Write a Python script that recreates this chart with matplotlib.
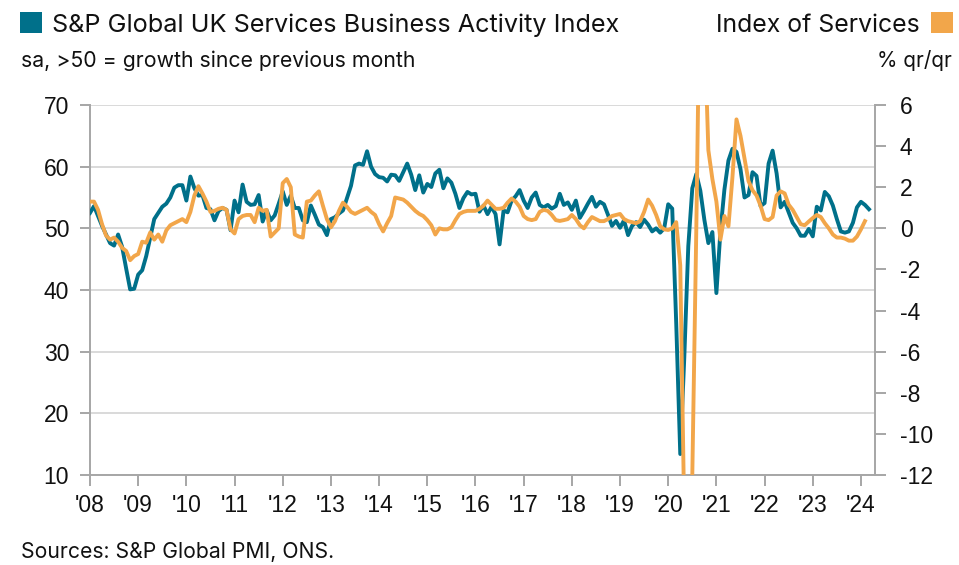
import matplotlib
matplotlib.use("Agg")
import matplotlib.pyplot as plt
import numpy as np
from matplotlib.patches import Rectangle

plt.rcParams['font.family'] = ['Liberation Sans', 'DejaVu Sans']

# S&P Global UK Services Business Activity Index, monthly Jan 2008 - Mar 2024
pmi = [
    52.5, 53.6, 52.0, 50.4, 49.0, 47.6, 47.2, 49.0, 47.0, 43.5, 40.1, 40.2,   # 2008
    42.5, 43.2, 45.5, 48.5, 51.5, 52.5, 53.5, 54.0, 55.0, 56.6, 57.0, 57.0,   # 2009
    54.5, 58.4, 56.5, 55.3, 55.4, 53.3, 53.1, 51.3, 52.8, 53.3, 53.0, 49.7,   # 2010
    54.5, 52.6, 57.1, 54.3, 53.8, 53.9, 55.4, 51.1, 52.9, 51.3, 52.1, 54.0,   # 2011
    56.0, 53.8, 55.3, 53.3, 53.3, 51.3, 51.0, 53.7, 52.2, 50.6, 50.2, 48.9,   # 2012
    51.5, 51.8, 52.4, 52.9, 54.9, 56.9, 60.2, 60.5, 60.3, 62.5, 60.0, 58.8,   # 2013
    58.3, 58.2, 57.6, 58.7, 58.6, 57.7, 59.1, 60.5, 58.7, 56.2, 58.6, 55.8,   # 2014
    57.2, 56.7, 58.9, 59.5, 56.5, 58.1, 57.4, 55.6, 53.3, 54.9, 55.9, 55.5,   # 2015
    55.6, 52.7, 53.7, 52.3, 53.5, 52.3, 47.4, 52.9, 52.6, 54.5, 55.2, 56.2,   # 2016
    54.5, 53.3, 55.0, 55.8, 53.8, 53.4, 53.8, 53.2, 53.6, 55.6, 53.8, 54.2,   # 2017
    53.0, 54.5, 51.7, 52.8, 54.0, 55.1, 53.5, 54.3, 53.9, 52.2, 50.4, 51.2,   # 2018
    50.1, 51.3, 48.9, 50.4, 51.0, 50.2, 51.4, 50.6, 49.5, 50.0, 49.3, 50.0,   # 2019
    53.9, 53.2, 34.5, 13.4, 29.0, 47.1, 56.5, 58.8, 56.1, 51.4, 47.6, 49.4,   # 2020
    39.5, 49.5, 56.3, 61.0, 62.9, 62.4, 59.6, 55.0, 55.4, 59.1, 58.5, 53.6,   # 2021
    54.1, 60.5, 62.6, 58.9, 53.4, 54.3, 52.6, 50.9, 50.0, 48.8, 48.8, 49.9,   # 2022
    48.7, 53.5, 52.9, 55.9, 55.2, 53.7, 51.5, 49.5, 49.3, 49.5, 50.9, 53.4,   # 2023
    54.3, 53.8, 53.1,                                                         # 2024
]

# Index of Services, % 3m/3m, monthly Jan 2008 - Feb 2024
ios = [
    1.3, 1.3, 0.9, 0.2, -0.35, -0.55, -0.45, -0.65, -0.95, -1.1, -1.55, -1.35,   # 2008
    -1.25, -0.65, -0.7, -0.2, -0.55, -0.3, -0.65, -0.1, 0.15, 0.25, 0.35, 0.45,  # 2009
    0.3, 0.8, 1.6, 2.05, 1.7, 1.3, 0.8, 0.85, 0.95, 1.0, 0.9, -0.05,            # 2010
    -0.25, 0.45, 0.6, 0.65, 0.65, 0.3, 1.0, 0.85, 0.9, -0.4, -0.2, 0.0,         # 2011
    2.2, 2.4, 2.0, -0.3, -0.4, -0.45, 1.3, 1.35, 1.6, 1.8, 1.1, 0.45,           # 2012
    0.05, 0.35, 0.85, 1.25, 1.05, 0.8, 0.7, 0.8, 0.9, 1.0, 0.8, 0.65,           # 2013
    0.2, -0.15, 0.25, 0.6, 1.5, 1.45, 1.4, 1.25, 1.05, 0.85, 0.7, 0.6,          # 2014
    0.4, 0.15, -0.3, 0.0, -0.05, -0.05, 0.05, 0.4, 0.7, 0.8, 0.85, 0.85,        # 2015
    0.85, 0.95, 1.1, 1.35, 1.15, 0.95, 0.95, 1.0, 1.25, 1.45, 1.3, 1.05,        # 2016
    0.6, 0.45, 0.4, 0.45, 0.8, 0.9, 0.85, 0.65, 0.4, 0.36, 0.4, 0.45,           # 2017
    0.65, 0.45, 0.15, 0.0, 0.3, 0.55, 0.45, 0.35, 0.35, 0.45, 0.6, 0.65,        # 2018
    0.7, 0.45, 0.35, 0.3, 0.25, 0.35, 0.8, 1.4, 1.1, 0.65, 0.1, -0.05,          # 2019
    -0.08, 0.0, 0.3, -1.8, -14.0, -21.0, -12.0, 0.0, 14.0, 10.0, 3.8, 2.4,      # 2020
    1.3, -0.55, 0.6, 0.1, 2.5, 5.3, 4.5, 3.4, 2.3, 1.85, 1.6, 1.1,              # 2021
    0.45, 0.4, 0.55, 1.6, 1.8, 1.7, 1.15, 0.9, 0.55, 0.2, 0.15, 0.33,           # 2022
    0.5, 0.65, 0.55, 0.25, 0.0, -0.3, -0.45, -0.45, -0.5, -0.6, -0.6, -0.4,     # 2023
    -0.05, 0.35,                                                                # 2024
]

year_labels = ["'08", "'09", "'10", "'11", "'12", "'13", "'14", "'15", "'16",
               "'17", "'18", "'19", "'20", "'21", "'22", "'23", "'24"]
left_ticks = [10, 20, 30, 40, 50, 60, 70]
right_ticks = [-12, -10, -8, -6, -4, -2, 0, 2, 4, 6]

TEAL = '#00708A'
ORANGE = '#F2A64A'
AXC = '#a6a6a6'
GRID = '#d9d9d9'
TXT = '#111111'
TFONT = ['Inter', 'DejaVu Sans']

W, H = 959, 565
fig = plt.figure(figsize=(W / 100, H / 100), dpi=100)
ax = fig.add_axes([90 / W, 1 - 475 / H, 785 / W, 370 / H])

ax.plot(np.arange(len(pmi)), pmi, color=TEAL, lw=2.8, solid_joinstyle='round', zorder=3)
ax.set_xlim(0, 195.5)
ax.set_ylim(10, 70)
ax.set_yticks(left_ticks)
ax.set_yticklabels([str(t) for t in left_ticks])
ax.yaxis.grid(True, color=GRID, lw=1.4)
ax.set_axisbelow(True)
ax.set_xticks(np.arange(len(year_labels)) * 12)
ax.set_xticklabels(year_labels)

ax2 = ax.twinx()
ax2.plot(np.arange(len(ios)), ios, color=ORANGE, lw=2.8, solid_joinstyle='round', zorder=4)
ax2.set_ylim(-12, 6)
ax2.set_yticks(right_ticks)
ax2.set_yticklabels([str(t) for t in right_ticks])
ax2.set_xlim(0, 195.5)

for a in (ax, ax2):
    a.spines['top'].set_visible(False)
    for s in a.spines.values():
        s.set_color(AXC)
        s.set_linewidth(1.4)
ax.spines['right'].set_visible(False)
ax2.spines['left'].set_visible(False)
ax2.spines['bottom'].set_visible(False)

ax.tick_params(axis='y', direction='out', length=7, width=1.4, color=AXC,
               labelsize=16.5, labelcolor=TXT, pad=8)
ax.tick_params(axis='x', direction='out', length=8, width=1.4, color=AXC,
               labelsize=16.5, labelcolor=TXT, pad=6)
ax2.tick_params(axis='y', direction='out', length=8, width=1.4, color=AXC,
                labelsize=16.5, labelcolor=TXT, pad=10)

def fy(px):
    return 1 - px / H

fig.add_artist(Rectangle((20 / W, fy(33)), 22 / W, 21 / H, transform=fig.transFigure,
                         color=TEAL, lw=0))
fig.add_artist(Rectangle((931 / W, fy(33)), 22 / W, 21 / H, transform=fig.transFigure,
                         color=ORANGE, lw=0))

texts = [
    (52, 32, "S&P Global UK Services Business Activity Index", 'left', 568),
    (920, 32, "Index of Services", 'right', 204),
    (21, 67, "sa, >50 = growth since previous month", 'left', 394),
    (952, 67, "% qr/qr", 'right', 75),
    (21, 558, "Sources: S&P Global PMI, ONS.", 'left', 313),
]
renderer = fig.canvas.get_renderer()
for x, y, s, ha, target in texts:
    t = fig.text(x / W, fy(y), s, fontsize=15, color=TXT, va='baseline', ha=ha,
                 family=TFONT)
    w = t.get_window_extent(renderer).width
    t.set_fontsize(15 * target / w)

fig.savefig("out.png", dpi=100)
